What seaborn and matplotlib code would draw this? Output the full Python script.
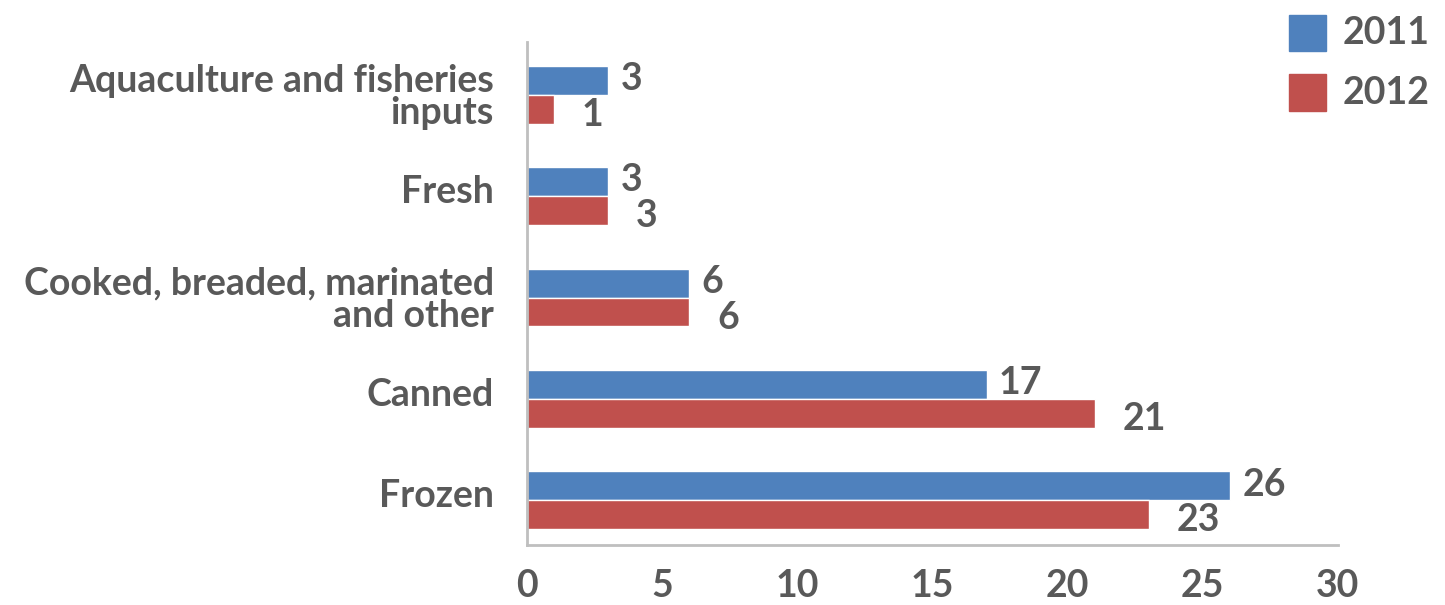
import matplotlib
matplotlib.use("Agg")
import matplotlib.pyplot as plt
import matplotlib.transforms as mtransforms
import seaborn as sns
import pandas as pd

categories = ["Aquaculture and fisheries\ninputs", "Fresh",
              "Cooked, breaded, marinated\nand other", "Canned", "Frozen"]
values_2011 = [3, 3, 6, 17, 26]
values_2012 = [1, 3, 6, 21, 23]
years = ["2011", "2012"]
palette = ["#4F81BD", "#C0504D"]
text_color = "#595959"

sns.set_theme(style="white")
plt.rcParams["font.family"] = ["Lato", "DejaVu Sans"]

df = pd.DataFrame({
    "category": categories * 2,
    "value": values_2011 + values_2012,
    "year": [years[0]] * len(categories) + [years[1]] * len(categories),
})

fig = plt.figure(figsize=(14.45, 6.05), dpi=100)
ax = fig.add_axes([0.3647, 0.0992, 0.5612, 0.8314])

sns.barplot(data=df, y="category", x="value", hue="year", orient="h",
            palette=palette, width=0.57, saturation=1, ax=ax, legend=False)

ax.set_xlim(0, 30)
ax.set_ylim(4.44, -0.52)
ax.set_xticks(range(0, 31, 5))
ax.set_xlabel("")
ax.set_ylabel("")

for side in ["top", "right"]:
    ax.spines[side].set_visible(False)
for side in ["left", "bottom"]:
    ax.spines[side].set_color("#bfbfbf")
    ax.spines[side].set_linewidth(2)

ax.tick_params(axis="x", which="major", length=12, width=2, color="#bfbfbf",
               labelsize=27, labelcolor=text_color, pad=5, direction="out")
ax.tick_params(axis="y", length=0, labelsize=27, labelcolor=text_color, pad=24)
for lbl in ax.get_xticklabels() + ax.get_yticklabels():
    lbl.set_fontweight("bold")
    lbl.set_linespacing(0.95)

# single-line category names sit a little above the group centre
lift = mtransforms.ScaledTranslation(0, 5 / 72, fig.dpi_scale_trans)
for lbl in ax.get_yticklabels():
    if "\n" not in lbl.get_text():
        lbl.set_transform(lbl.get_transform() + lift)

# value labels next to each bar
for container, vals, dx, dy in zip(ax.containers, [values_2011, values_2012],
                                   [9, 20], [1, -4]):
    for bar, v in zip(container, vals):
        y = bar.get_y() + bar.get_height() / 2
        ax.annotate(f"{v}", xy=(v, y), xytext=(dx, dy), textcoords="offset points",
                    ha="left", va="center", fontsize=27, fontweight="bold",
                    color=text_color)

# legend in the upper right corner
for i, (yr, col) in enumerate(zip(years, palette)):
    yy = 0.945 - i * 0.098
    fig.patches.append(plt.Rectangle((0.892, yy - 0.03), 0.0256, 0.06,
                                     transform=fig.transFigure, color=col))
    fig.text(0.929, yy, yr, ha="left", va="center", fontsize=27,
             fontweight="bold", color=text_color)

fig.savefig("out.png", dpi=100)
